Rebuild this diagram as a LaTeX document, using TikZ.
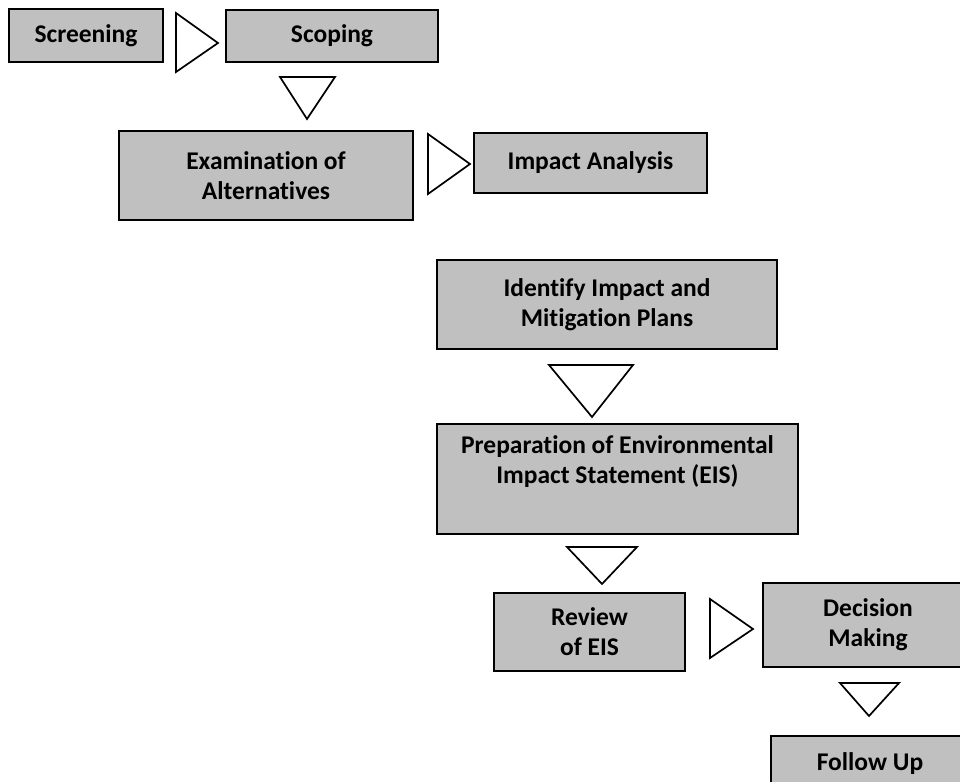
\documentclass[tikz,border=0pt]{standalone}
\usepackage{fontspec}
\setmainfont{Carlito}[Ligatures=NoCommon]
\usepackage{tikz}
\usetikzlibrary{positioning}

\definecolor{boxgray}{RGB}{192,192,192}
\tikzset{
  stage/.style={draw=black, fill=boxgray, line width=1.7pt, inner sep=0pt,
    align=center, font=\fontsize{25.5}{30}\selectfont\bfseries},
  tri/.style={draw=black, fill=white, line width=1.7pt, line join=miter}
}

\begin{document}
\begin{tikzpicture}[x=1pt,y=-1pt]
% Page
\clip (0,0) rectangle (960,781);
\useasboundingbox (0,0) rectangle (960,781);

% Stages
\node[stage, minimum width=154pt, minimum height=53pt] (screen) at (86,35.5) {Screening};
\node[stage, minimum width=212pt, minimum height=52pt] (scope) at (332,36) {Scoping};
\node[stage, minimum width=294pt, minimum height=89pt] (exam) at (266,175.5) {Examination of\\Alternatives};
\node[stage, minimum width=233pt, minimum height=60pt] (impact) at (590.5,163) {Impact Analysis};
\node[stage, minimum width=340pt, minimum height=89pt] (ident) at (607,304.5) {Identify Impact and\\Mitigation Plans};
\node[stage, minimum width=361pt, minimum height=110pt] (prep) at (617.5,479) {Preparation of Environmental\\Impact Statement (EIS)\\\strut};
\node[stage, minimum width=191pt, minimum height=78pt] (review) at (589.5,632) {Review\\of EIS};
\node[stage, minimum width=210pt, minimum height=84pt] (decide) at (868,625) {Decision\\Making};
\node[stage, minimum width=198pt, minimum height=56pt] (follow) at (870,764) {Follow Up};

% Triangles
\draw[tri] (176,13) -- (176,72) -- (218,43) -- cycle;
\draw[tri] (280,77) -- (335,77) -- (307,119) -- cycle;
\draw[tri] (428,134) -- (428,194) -- (470,164) -- cycle;
\draw[tri] (549,365) -- (633,365) -- (592,417) -- cycle;
\draw[tri] (567,547) -- (637,547) -- (602,584) -- cycle;
\draw[tri] (710,599) -- (710,658) -- (753,629) -- cycle;
\draw[tri] (840,683) -- (899,683) -- (869,716) -- cycle;
\end{tikzpicture}
\end{document}
